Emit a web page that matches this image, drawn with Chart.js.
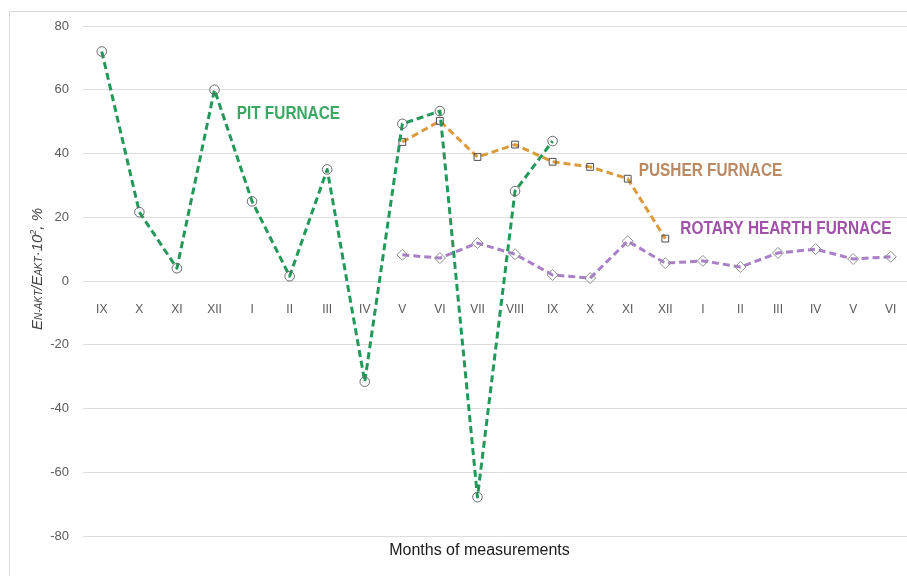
<!DOCTYPE html>
<html>
<head>
<meta charset="utf-8">
<script src="https://cdn.jsdelivr.net/npm/chart.js@4.4.1/dist/chart.umd.min.js"></script>
<style>
  html, body { margin: 0; padding: 0; background: #fff; overflow: hidden; }
  #wrap { position: relative; width: 907px; height: 576px; overflow: hidden; }
  canvas { position: absolute; left: 0; top: 0; }
</style>
</head>
<body>
<div id="wrap"><canvas id="chart" width="916" height="576"></canvas></div>
<script>
const months = ['IX', 'X', 'XI', 'XII', 'I', 'II', 'III', 'IV', 'V', 'VI', 'VII', 'VIII',
                'IX', 'X', 'XI', 'XII', 'I', 'II', 'III', 'IV', 'V', 'VI'];
const pitFurnace = [72, 21.6, 4, 60, 25, 1.5, 35, -31.6, 49.3, 53.3, -67.8, 28.2, 43.9,
                    null, null, null, null, null, null, null, null, null];
const pusherFurnace = [null, null, null, null, null, null, null, null,
                       43.6, 50.2, 38.9, 42.8, 37.4, 35.8, 32.1, 13.3,
                       null, null, null, null, null, null];
const rotaryFurnace = [null, null, null, null, null, null, null, null,
                       8.2, 7.2, 11.9, 8.4, 1.9, 0.9, 12.5, 5.6, 6.3, 4.4, 8.8, 10, 6.9, 7.6];
const yTicks = [-80, -60, -40, -20, 0, 20, 40, 60, 80];
const seriesNames = ['PIT FURNACE', 'PUSHER FURNACE', 'ROTARY HEARTH FURNACE'];

// where the series names sit, in axis units (category index, y value)
const nameSpots = [
    { at: [3.59, 52.4], color: '#3aa862' },
    { at: [14.29, 34.5], color: '#bb8a63' },
    { at: [15.4, 16.3], color: '#9f52a7' }
];

const extras = {
    id: 'extras',
    beforeDraw: (chart) => {
        const ctx = chart.ctx;
        ctx.save();
        ctx.strokeStyle = '#d9d9d9';
        ctx.lineWidth = 1;
        ctx.strokeRect(9.5, 11.5, 1000, 1000);
        ctx.restore();
    },
    afterDraw: (chart) => {
        const ctx = chart.ctx;
        const x = chart.scales.x;
        const y = chart.scales.y;

        // series names
        ctx.save();
        ctx.font = 'bold 19px "Liberation Sans", Arial, sans-serif';
        ctx.textBaseline = 'middle';
        ctx.textAlign = 'left';
        seriesNames.forEach((name, i) => {
            const spot = nameSpots[i];
            ctx.save();
            ctx.translate(x.getPixelForValue(spot.at[0]), y.getPixelForValue(spot.at[1]));
            ctx.scale(0.81, 1);
            ctx.fillStyle = spot.color;
            ctx.fillText(name, 0, 0);
            ctx.restore();
        });
        ctx.restore();

        // x axis title
        ctx.save();
        ctx.font = '16px "Liberation Sans", Arial, sans-serif';
        ctx.fillStyle = '#1a1a1a';
        ctx.textAlign = 'center';
        ctx.textBaseline = 'middle';
        ctx.fillText('Months of measurements', x.getPixelForValue(10) + 2, y.bottom + 15);
        ctx.restore();

        // y axis title with sub/superscripts
        const big = 'italic 15px "Liberation Sans", Arial, sans-serif';
        const small = 'italic 10px "Liberation Sans", Arial, sans-serif';
        const sup = 'italic 9px "Liberation Sans", Arial, sans-serif';
        const pieces = [
            ['E', big, 0], ['N-AKT', small, 0], ['/E', big, 0], ['AKT', small, 0],
            ['\u00B710', big, 0], ['2', sup, -6], [', %', big, 0]
        ];
        ctx.save();
        ctx.fillStyle = '#404040';
        ctx.textBaseline = 'alphabetic';
        ctx.textAlign = 'left';
        let total = 0;
        pieces.forEach(p => { ctx.font = p[1]; total += ctx.measureText(p[0]).width; });
        ctx.translate(42, (y.top + y.bottom) / 2 - 12);
        ctx.rotate(-Math.PI / 2);
        let cx = -total / 2;
        pieces.forEach(p => {
            ctx.font = p[1];
            ctx.fillText(p[0], cx, p[2]);
            cx += ctx.measureText(p[0]).width;
        });
        ctx.restore();
    }
};

new Chart(document.getElementById('chart').getContext('2d'), {
    type: 'line',
    data: {
        labels: months,
        datasets: [
            {
                label: seriesNames[0],
                data: pitFurnace,
                borderColor: '#22995a',
                borderWidth: 3,
                borderDash: [7, 4],
                borderJoinStyle: 'round',
                tension: 0,
                pointStyle: 'circle',
                pointRadius: 4.8,
                pointBorderWidth: 1,
                pointBorderColor: '#6a6a6a',
                pointBackgroundColor: 'rgba(0,0,0,0)'
            },
            {
                label: seriesNames[1],
                data: pusherFurnace,
                borderColor: '#dc9b3a',
                borderWidth: 3,
                borderDash: [7, 4],
                borderJoinStyle: 'round',
                tension: 0,
                pointStyle: 'rect',
                pointRadius: 4.8,
                pointBorderWidth: 1,
                pointBorderColor: '#505050',
                pointBackgroundColor: 'rgba(0,0,0,0)'
            },
            {
                label: seriesNames[2],
                data: rotaryFurnace,
                borderColor: '#a97fc8',
                borderWidth: 3,
                borderDash: [7, 4],
                borderJoinStyle: 'round',
                tension: 0,
                pointStyle: 'rectRot',
                pointRadius: 5.5,
                pointBorderWidth: 1,
                pointBorderColor: '#8f8f8f',
                pointBackgroundColor: 'rgba(0,0,0,0)'
            }
        ]
    },
    options: {
        responsive: false,
        animation: false,
        layout: { padding: { top: 26, bottom: 40, left: 0, right: 0 } },
        scales: {
            x: {
                position: { y: 0 },
                offset: true,
                grid: { display: false },
                border: { display: false },
                afterFit: (scale) => { scale.height = 0; },
                ticks: {
                    color: '#595959',
                    font: { family: '"Liberation Sans", Arial, sans-serif', size: 12 },
                    padding: 13,
                    maxRotation: 0,
                    autoSkip: false
                }
            },
            y: {
                min: -80,
                max: 80,
                afterFit: (scale) => { scale.width = 83; },
                afterBuildTicks: (scale) => { scale.ticks = yTicks.map(v => ({ value: v })); },
                grid: { color: '#dedede', drawTicks: false },
                border: { display: false },
                ticks: {
                    color: '#595959',
                    font: { family: '"Liberation Sans", Arial, sans-serif', size: 13 },
                    padding: 14
                }
            }
        },
        plugins: {
            legend: { display: false },
            tooltip: { enabled: false }
        }
    },
    plugins: [extras]
});
</script>
</body>
</html>
